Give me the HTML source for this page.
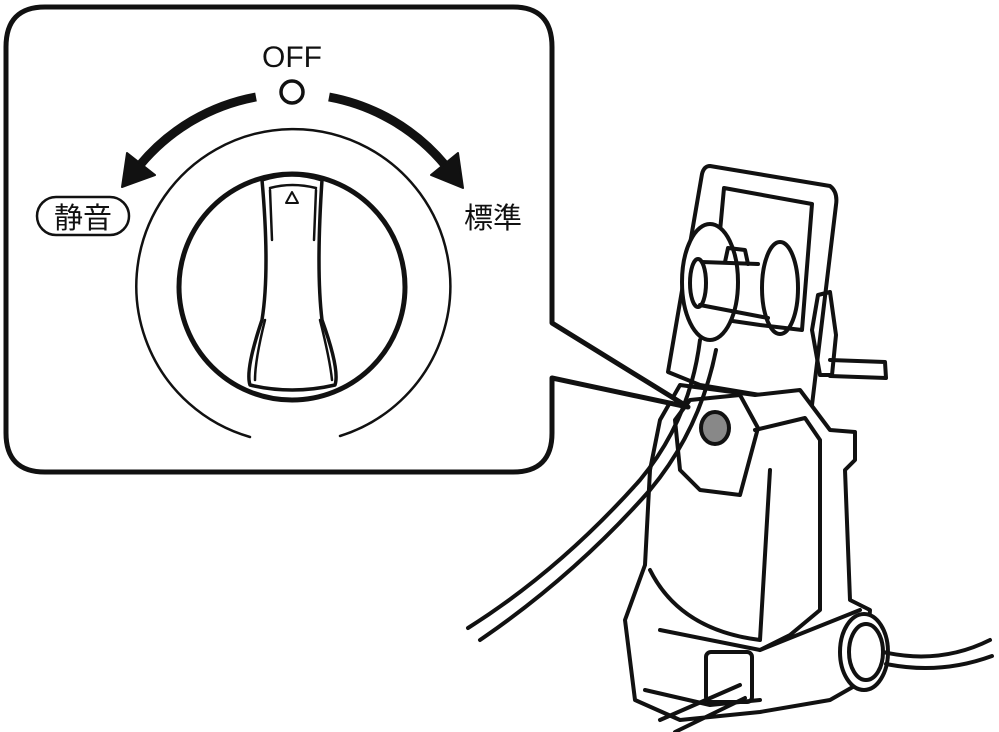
<!DOCTYPE html>
<html><head><meta charset="utf-8"><style>html,body{margin:0;padding:0;background:#fff}svg{display:block}</style></head>
<body>
<svg width="999" height="732" viewBox="0 0 999 732" xmlns="http://www.w3.org/2000/svg" fill="none" stroke="#111" stroke-linejoin="round" stroke-linecap="round">
<!-- machine -->
<g stroke-width="4">
<!-- frame -->
<path d="M710 166 L830 186 Q838 192 836 205 L812 405 L760 395 L700 385 L668 372 L702 174 Q704 166 710 166Z" fill="#fff"/>
<path d="M724 188 L812 204 L802 330 L760 325 L712 318Z"/>
<!-- reel -->
<ellipse cx="710" cy="282" rx="28" ry="58" fill="#fff"/>
<path d="M702 262 L758 264 M700 305 L768 318"/>
<ellipse cx="780" cy="288" rx="18" ry="46"/>
<ellipse cx="698" cy="283" rx="8" ry="24"/>
<path d="M725 262 L728 248 L745 250 L748 264"/>
<!-- crank -->
<path d="M818 295 L830 292 L836 335 L832 375 L820 375 L812 330Z"/>
<path d="M830 360 L885 362 L886 378 L830 376"/>
<!-- body -->
<path d="M660 420 L680 385 L755 395 L800 390 L830 430 L855 432 L855 460 L845 470 L850 600 L870 610 L865 680 L830 700 L760 712 L680 720 L635 700 L625 620 L645 565 L650 470Z" fill="#fff"/>
<path d="M690 400 L740 395 L758 428 L740 495 L700 490 L680 470 L675 420Z"/>
<path d="M755 430 L805 418 L820 440 L820 610 L790 635 L760 650"/>
<path d="M650 570 Q680 630 760 640 L770 470"/>
<path d="M660 630 L760 650 L860 610"/>
<path d="M645 690 L710 705 L760 700"/>
<rect x="706" y="652" width="46" height="50" rx="5"/>
<!-- wheel -->
<ellipse cx="864" cy="652" rx="24" ry="38" fill="#fff"/>
<ellipse cx="866" cy="652" rx="17" ry="28"/>
<path d="M883 652 Q940 665 990 640 M886 664 Q940 675 992 656"/>
<!-- hoses -->
<path d="M700 340 Q690 420 640 480 Q560 570 468 628" stroke-width="4"/>
<path d="M716 350 Q700 430 650 490 Q575 575 480 640" stroke-width="4"/>
<path d="M740 685 L660 720 M745 698 L675 732" />
</g>
<ellipse cx="715" cy="428" rx="14" ry="16" fill="#888" stroke-width="4"/>
<!-- callout -->
<path d="M45 7 H513 Q552 7 552 47 V323 L688 407 L552 378 V433 Q552 472 513 472 H45 Q6 472 6 433 V47 Q6 7 45 7Z" fill="#fff" stroke-width="5"/>
<!-- dial -->
<circle cx="292" cy="92" r="11" stroke-width="3.5"/>
<text x="292" y="67" font-family="Liberation Sans, sans-serif" font-size="30" fill="#111" stroke="none" text-anchor="middle">OFF</text>
<path d="M250 437 A157 157 0 1 1 340 436" stroke-width="2.5"/>
<circle cx="292" cy="287" r="113" stroke-width="5"/>
<path d="M262 180 Q292 170 322 180 Q316 270 322 320 Q340 370 335 385 Q292 395 250 385 Q245 370 262 320 Q270 270 262 180Z" stroke-width="3.5" fill="#fff"/>
<path d="M270 188 Q292 182 316 188 M272 240 L270 190 M314 240 L316 190 M265 320 Q255 360 255 380 M320 320 Q330 360 332 380" stroke-width="2.5"/>
<path d="M286 203 L292 192 L298 203Z" stroke-width="2"/>
<!-- arrows -->
<path d="M256 97 A197 197 0 0 0 140 165" stroke-width="9" stroke-linecap="butt"/>
<path d="M122 187 L127 153 L155 175Z" fill="#111" stroke-width="2"/>
<path d="M329 97 A197 197 0 0 1 445 165" stroke-width="9" stroke-linecap="butt"/>
<path d="M463 188 L458 153 L431 175Z" fill="#111" stroke-width="2"/>
<!-- labels -->
<rect x="37" y="197" width="92" height="38" rx="19" stroke-width="2.5"/>
<text x="83" y="228" font-family="Liberation Sans, 'Noto Sans CJK JP', sans-serif" font-size="29" fill="#111" stroke="none" text-anchor="middle">静音</text>
<text x="493" y="228" font-family="Liberation Sans, 'Noto Sans CJK JP', sans-serif" font-size="29" fill="#111" stroke="none" text-anchor="middle">標準</text>
</svg>
</body></html>
